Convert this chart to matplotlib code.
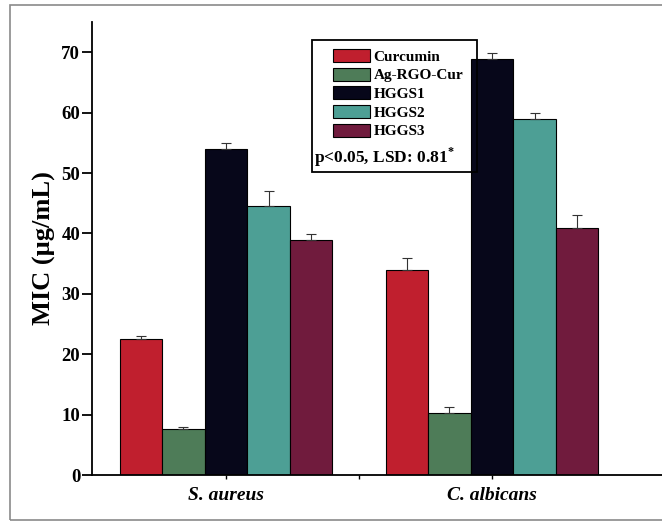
import matplotlib
matplotlib.use("Agg")
import matplotlib.pyplot as plt
from matplotlib.patches import Rectangle
from matplotlib.transforms import IdentityTransform
import numpy as np

# Data
organisms = ["S. aureus", "C. albicans"]
samples = ["Curcumin", "Ag-RGO-Cur", "HGGS1", "HGGS2", "HGGS3"]
mic_s_aureus = [22.5, 7.6, 54.0, 44.6, 38.9]
mic_c_albicans = [33.9, 10.3, 68.9, 58.9, 40.9]
err_s_aureus = [0.5, 0.4, 1.0, 2.5, 1.0]
err_c_albicans = [2.0, 1.0, 1.0, 1.0, 2.1]
stat_note = "p<0.05, LSD: 0.81$^{*}$"

colors = ["#c01f2e", "#4e7c58", "#07071a", "#4d9f95", "#701b3d"]

plt.rcParams["font.family"] = ["Liberation Serif", "DejaVu Serif"]
plt.rcParams["font.weight"] = "bold"
plt.rcParams["mathtext.fontset"] = "custom"
plt.rcParams["mathtext.rm"] = "Liberation Serif:bold"

fig = plt.figure(figsize=(6.62, 5.27), dpi=100)
W, H = 662, 527

# Outer frame around the figure
fig.patches.append(Rectangle((10 / W, 1 - 520 / H), 2.0, (520 - 5) / H,
                             transform=fig.transFigure, fill=False,
                             edgecolor="#8a8a8a", linewidth=1.2))

ax = fig.add_axes([92 / W, 1 - 475 / H, (662 - 92) / W, (475 - 22) / H])

x = np.arange(len(organisms))
bw = 0.16
values = np.array([mic_s_aureus, mic_c_albicans])
errors = np.array([err_s_aureus, err_c_albicans])
for i, name in enumerate(samples):
    pos = x + (i - 2) * bw
    ax.bar(pos, values[:, i], width=bw, color=colors[i], edgecolor="black",
           linewidth=0.8, label=name, zorder=2)
    ax.errorbar(pos, values[:, i],
                yerr=[np.zeros(len(organisms)), errors[:, i]],
                fmt="none", ecolor="#333333", elinewidth=0.8, capsize=3.5,
                capthick=0.8, zorder=3)

ax.set_xlim(-0.504, 1.639)
ax.set_ylim(0, 75)
ax.set_yticks(np.arange(0, 71, 10))
ax.set_xticks(x)
ax.set_xticks([0.5], minor=True)
ax.set_xticklabels(organisms, fontstyle="italic", fontweight="bold", fontsize=14)
ax.tick_params(axis="y", labelsize=13.5, length=7, width=1.3, direction="out", pad=1.5)
ax.tick_params(axis="x", which="both", length=3, width=1.0, direction="out", pad=6)
for lbl in ax.get_yticklabels():
    lbl.set_fontweight("bold")

ax.spines["top"].set_visible(False)
ax.spines["right"].set_visible(False)
ax.spines["left"].set_linewidth(1.3)
ax.spines["bottom"].set_linewidth(1.3)

ax.set_ylabel("MIC (µg/mL)", fontsize=19, fontweight="bold", labelpad=4)

# Legend box with the statistics note underneath the entries
box = Rectangle((312, H - 172), 165, 132, fill=False,
                edgecolor="black", linewidth=1.3, zorder=5)
box.set_transform(IdentityTransform())
fig.patches.append(box)
leg = ax.legend(loc="upper left", bbox_to_anchor=((333 - 92) / 570, (475 - 49) / 453),
                frameon=False, handlelength=2.4, handleheight=0.92,
                handletextpad=0.25, labelspacing=0.26, borderpad=0.0,
                borderaxespad=0.0, prop={"weight": "bold", "size": 11})
fig.text(314 / W, 1 - 157 / H, stat_note, fontsize=12.5, fontweight="bold",
         va="center", ha="left")

fig.savefig("out.png", dpi=100)
